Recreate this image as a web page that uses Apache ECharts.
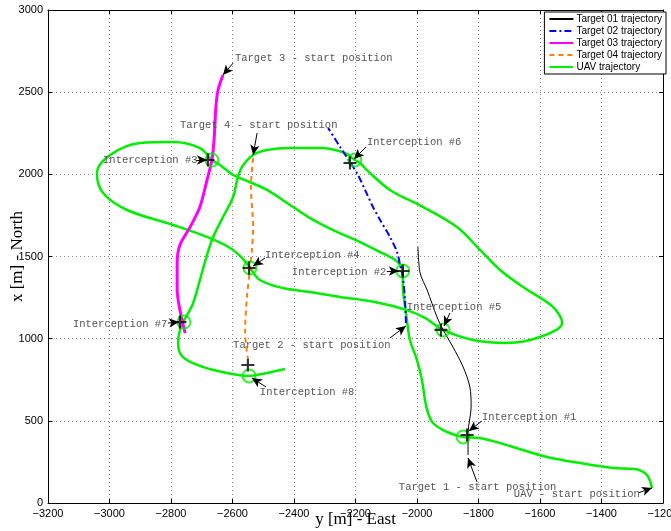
<!DOCTYPE html>
<html><head><meta charset="utf-8">
<script src="https://cdn.jsdelivr.net/npm/echarts@6/dist/echarts.min.js"></script>
<style>html,body{margin:0;padding:0;background:#fff}#c{width:671px;height:531px}</style>
</head><body><div id="c"></div>
<script>
// ---- data (x = East [m], y = North [m]) ----
const xTicks = [-3200,-3000,-2800,-2600,-2400,-2200,-2000,-1800,-1600,-1400,-1200];
const yTicks = [0,500,1000,1500,2000,2500,3000];

const target01 = [[-1834,292],[-1834,426],[-1824,584],[-1828,706],[-1850,828],[-1883,949],[-1915,1053],[-1935,1132],[-1967,1296],[-1990,1400],[-1997,1558]];
const target02 = [[-2036,1095],[-2039,1235],[-2046,1375],[-2055,1448],[-2065,1527],[-2088,1619],[-2120,1722],[-2143,1801],[-2169,1905],[-2192,1996],[-2218,2075],[-2250,2166],[-2289,2282]];
const target03 = [[-2631,2604],[-2647,2513],[-2654,2410],[-2660,2209],[-2667,2087],[-2683,1965],[-2706,1801],[-2738,1679],[-2771,1570],[-2780,1460],[-2780,1296],[-2771,1174],[-2754,1034]];
const target04 = [[-2533,2099],[-2540,1923],[-2533,1679],[-2537,1540],[-2543,1430],[-2553,1254],[-2559,1053],[-2556,961],[-2550,882]];
const uav = [[-1236,91],[-1252,170],[-1291,207],[-1363,213],[-1470,243],[-1577,280],[-1688,341],[-1795,396],[-1850,402],[-1902,432],[-1948,487],[-1967,566],[-1974,627],[-1984,748],[-2000,870],[-2023,992],[-2033,1114],[-2039,1193],[-2046,1327],[-2046,1412],[-2062,1466],[-2088,1497],[-2120,1527],[-2185,1588],[-2273,1661],[-2348,1734],[-2403,1801],[-2488,1905],[-2559,1965],[-2598,1996],[-2641,2057],[-2667,2087],[-2706,2160],[-2793,2197],[-2901,2191],[-2998,2118],[-3041,2008],[-3021,1886],[-2943,1783],[-2793,1692],[-2683,1619],[-2608,1552],[-2569,1491],[-2543,1430],[-2511,1357],[-2436,1308],[-2348,1284],[-2250,1254],[-2137,1223],[-2033,1174],[-1974,1126],[-1915,1053],[-1818,992],[-1707,974],[-1600,1010],[-1528,1095],[-1558,1193],[-1655,1314],[-1730,1418],[-1795,1540],[-1870,1679],[-1980,1801],[-2088,1905],[-2163,2026],[-2185,2069],[-2202,2087],[-2234,2130],[-2315,2160],[-2413,2160],[-2488,2148],[-2533,2118],[-2569,2045],[-2585,1965],[-2598,1862],[-2631,1740],[-2663,1619],[-2683,1509],[-2706,1357],[-2728,1217],[-2751,1132],[-2761,1101],[-2771,1053],[-2777,974],[-2761,888],[-2696,828],[-2618,791],[-2550,773],[-2488,791],[-2429,815]];
const uavIntercept = [[-1850,402],[-2046,1412],[-2667,2087],[-2543,1430],[-1915,1053],[-2202,2087],[-2758,1101],[-2546,773]];
const targetIntercept = [[-1837,414],[-2046,1412],[-2680,2087],[-2546,1430],[-1922,1053],[-2218,2069],[-2771,1101],[-2550,840]];
const legendNames = ['Target 01 trajectory','Target 02 trajectory','Target 03 trajectory','Target 04 trajectory','UAV trajectory'];
// annotations: text, text anchor (left, middle), arrow tail, arrow head
const annotations = [
  ['Target 3 - start position',[-2592,2708],[-2598,2677],[-2631,2604]],
  ['Target 4 - start position',[-2771,2300],[-2520,2251],[-2533,2118]],
  ['Interception #6',[-2163,2197],[-2166,2166],[-2205,2093]],
  ['Interception #3',[-3021,2087],[-2719,2087],[-2683,2087]],
  ['Interception #4',[-2494,1509],[-2494,1491],[-2533,1442]],
  ['Interception #2',[-2407,1406],[-2098,1412],[-2059,1412]],
  ['Interception #5',[-2033,1193],[-1893,1156],[-1912,1077]],
  ['Interception #7',[-3119,1089],[-2810,1095],[-2774,1101]],
  ['Target 2 - start position',[-2598,961],[-2088,1004],[-2036,1077]],
  ['Interception #8',[-2511,675],[-2491,706],[-2537,761]],
  ['Interception #1',[-1789,523],[-1789,499],[-1831,438]],
  ['Target 1 - start position',[-2059,97],[-1805,128],[-1834,274]],
  ['UAV - start position',[-1685,55],[-1281,61],[-1236,91]]
];

// ---- chart ----
const chart = echarts.init(document.getElementById('c'), null, {renderer:'canvas'});
const fmt = v => String(v).replace('-', '\u2212');
const tickFont = {fontFamily:'Liberation Sans', fontSize:11, color:'#000'};
const xBase = {type:'value', min:xTicks[0], max:xTicks[xTicks.length-1], interval:200,
  axisLine:{show:true, onZero:false, lineStyle:{color:'#000', width:1}},
  axisTick:{show:true, inside:true, length:4, lineStyle:{color:'#000'}}};
const yBase = {type:'value', min:yTicks[0], max:yTicks[yTicks.length-1], interval:500,
  axisLine:{show:true, onZero:false, lineStyle:{color:'#000', width:1}},
  axisTick:{show:true, inside:true, length:4, lineStyle:{color:'#000'}}};

const plusPath = 'path://M5,0h2v12h-2zM0,5h12v2h-12z';

chart.setOption({
  animation:false,
  backgroundColor:'#fff',
  grid:{left:48, right:8, top:10, bottom:28, containLabel:false, outerBoundsMode:'none'},
  xAxis:[
    Object.assign({}, xBase, {position:'bottom',
      axisLabel:Object.assign({formatter:fmt, margin:5}, tickFont),
      splitLine:{show:true, lineStyle:{type:[1,3], color:'#888', width:1}},
      name:'y [m] - East', nameLocation:'middle', nameGap:8, nameMoveOverlap:false,
      nameTextStyle:{fontFamily:'Liberation Serif', fontSize:17, color:'#000'}}),
    Object.assign({}, xBase, {position:'top', axisLabel:{show:false}, splitLine:{show:false}})
  ],
  yAxis:[
    Object.assign({}, yBase, {position:'left',
      axisLabel:Object.assign({formatter:fmt, margin:5}, tickFont),
      splitLine:{show:true, lineStyle:{type:[1,3], color:'#888', width:1}},
      name:'x [m] - North', nameLocation:'middle', nameGap:22, nameMoveOverlap:false,
      nameTextStyle:{fontFamily:'Liberation Serif', fontSize:17, color:'#000'}}),
    Object.assign({}, yBase, {position:'right', axisLabel:{show:false}, splitLine:{show:false}})
  ],
  legend:{
    data:legendNames, orient:'vertical', right:5, top:12,
    backgroundColor:'#fff', borderColor:'#000', borderWidth:1,
    padding:[2,4,2,4], itemGap:2, itemWidth:24, itemHeight:10,
    itemStyle:{color:'rgba(0,0,0,0)', borderWidth:0, opacity:0},
    textStyle:{fontFamily:'Liberation Sans', fontSize:10, color:'#000', padding:[0,0,0,-2]},
    selectedMode:false
  },
  series:[
    {name:legendNames[0], type:'line', data:target01, symbol:'none', smooth:0.3,
     lineStyle:{color:'#000', width:1}, itemStyle:{color:'#000'}, z:3},
    {name:legendNames[1], type:'line', data:target02, symbol:'none', smooth:0.3,
     lineStyle:{color:'#0000ff', width:2, type:[7,3,2,3]}, itemStyle:{color:'#0000ff'}, z:3},
    {name:legendNames[2], type:'line', data:target03, symbol:'none', smooth:0.3,
     lineStyle:{color:'#ff00ff', width:3}, itemStyle:{color:'#ff00ff'}, z:3},
    {name:legendNames[3], type:'line', data:target04, symbol:'none', smooth:0.3,
     lineStyle:{color:'#ff7f0e', width:2, type:[5,4]}, itemStyle:{color:'#ff7f0e'}, z:3},
    {name:legendNames[4], type:'line', data:uav, symbol:'none', smooth:0.35,
     lineStyle:{color:'#00ee00', width:2.5}, itemStyle:{color:'#00ee00'}, z:2},
    {name:'uavIntercept', type:'scatter', data:uavIntercept, symbol:'circle', symbolSize:13,
     itemStyle:{color:'rgba(0,0,0,0)', borderColor:'#00ee00', borderWidth:2}, z:4},
    {name:'targetIntercept', type:'scatter', data:targetIntercept, symbol:plusPath, symbolSize:13,
     itemStyle:{color:'#000'}, z:5},
    {name:'arrows', type:'line', data:[], z:6,
     markLine:{silent:true, symbol:['none','arrow'], symbolSize:[7,10], label:{show:false},
       lineStyle:{color:'#000', width:1, type:'solid'},
       data:annotations.map(a => [{coord:a[2]},{coord:a[3]}])}}
  ]
});

const texts = annotations.map(a => {
  const p = chart.convertToPixel({xAxisIndex:0, yAxisIndex:0}, a[1]);
  return {type:'text', x:p[0], y:p[1], z:100, silent:true,
    style:{text:a[0], fill:'#555', font:'10.5px "Liberation Mono", monospace', textAlign:'left', textVerticalAlign:'middle'}};
});
chart.setOption({graphic:texts});
</script>
</body></html>
